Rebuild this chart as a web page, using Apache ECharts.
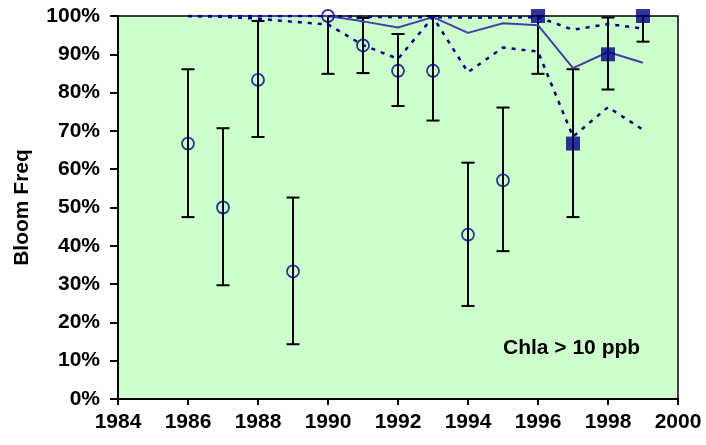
<!DOCTYPE html>
<html><head><meta charset="utf-8">
<script src="https://cdn.jsdelivr.net/npm/echarts@6/dist/echarts.min.js"></script>
<style>html,body{margin:0;padding:0;background:#fff}#c{width:706px;height:445px}</style>
</head><body><div id="c"></div>
<script>
// Data
const circleYears = [1986,1987,1988,1989,1990,1991,1992,1993,1994,1995];
const circleVals  = [0.667,0.500,0.833,0.333,1.000,0.923,0.857,0.857,0.429,0.571];
const squareYears = [1996,1997,1998,1999];
const squareVals  = [1.000,0.667,0.900,1.000];
const errYears = [1986,1987,1988,1989,1990,1991,1992,1993,1994,1995,1996,1997,1998,1999];
const errLow   = [0.475,0.297,0.684,0.143,0.849,0.851,0.765,0.727,0.243,0.386,0.849,0.475,0.808,0.933];
const errHigh  = [0.861,0.707,0.987,0.526,1.000,0.995,0.953,1.000,0.617,0.761,1.000,0.861,0.996,1.000];
const lineYears = [1986,1987,1988,1989,1990,1991,1992,1993,1994,1995,1996,1997,1998,1999];
const solidVals = [1.000,1.000,1.000,1.000,1.000,0.986,0.970,0.997,0.956,0.981,0.976,0.864,0.906,0.878];
const upperVals = [1.000,1.000,1.000,1.000,1.000,0.998,0.997,0.997,0.996,0.996,0.997,0.964,0.979,0.967];
const lowerVals = [1.000,0.998,0.993,0.985,0.978,0.924,0.888,0.997,0.853,0.918,0.907,0.685,0.762,0.703];
const xTicks = {min:1984, max:2000, interval:2};
const yTicks = {min:0, max:1, interval:0.1};
const noteText = 'Chla > 10 ppb';
const yTitle = 'Bloom Freq';

const zip = (a,b)=>a.map((v,i)=>[v,b[i]]);
const FONT = 'Liberation Sans';
const chart = echarts.init(document.getElementById('c'), null, {renderer:'canvas'});
chart.setOption({
  animation:false,
  grid:{left:118,right:28,top:16,bottom:46,show:true,backgroundColor:'#CCFFCC',borderColor:'#000',borderWidth:1.5},
  xAxis:{type:'value',min:xTicks.min,max:xTicks.max,interval:xTicks.interval,
    axisLine:{onZero:false,lineStyle:{color:'#000',width:2}},
    axisTick:{show:true,length:6,inside:false,lineStyle:{color:'#000',width:2}},
    axisLabel:{margin:13,color:'#000',fontFamily:FONT,fontWeight:'bold',fontSize:21,formatter:v=>String(v)},
    splitLine:{show:false}},
  yAxis:{type:'value',min:yTicks.min,max:yTicks.max,interval:yTicks.interval,
    name:yTitle,nameLocation:'middle',nameGap:85,
    nameTextStyle:{color:'#000',fontFamily:FONT,fontWeight:'bold',fontSize:21},
    axisLine:{onZero:false,lineStyle:{color:'#000',width:2}},
    axisTick:{show:true,length:8,lineStyle:{color:'#000',width:2}},
    axisLabel:{margin:18,color:'#000',fontFamily:FONT,fontWeight:'bold',fontSize:21,
      formatter:v=>Math.round(v*100)+'%'},
    splitLine:{show:false}},
  graphic:[{type:'text',left:503,top:338,style:{text:noteText,fill:'#000',font:'bold 21px "Liberation Sans"'}}],
  series:[
    {type:'custom',z:2,data:errYears.map((y,i)=>[y,errLow[i],errHigh[i]]),
     renderItem:function(params,api){
       const x=api.value(0);
       const p1=api.coord([x,api.value(1)]), p2=api.coord([x,api.value(2)]);
       const w=6.5, st={stroke:'#000',lineWidth:2};
       return {type:'group',children:[
         {type:'line',shape:{x1:p1[0],y1:p1[1],x2:p2[0],y2:p2[1]},style:st},
         {type:'line',shape:{x1:p1[0]-w,y1:p1[1],x2:p1[0]+w,y2:p1[1]},style:st},
         {type:'line',shape:{x1:p2[0]-w,y1:p2[1],x2:p2[0]+w,y2:p2[1]},style:st}
       ]};
     }},
    {type:'line',z:3,data:zip(lineYears,solidVals),symbol:'none',lineStyle:{color:'#4040a8',width:2}},
    {type:'line',z:3,data:zip(lineYears,upperVals),symbol:'none',lineStyle:{color:'#000080',width:2.5,type:[4,6]}},
    {type:'line',z:3,data:zip(lineYears,lowerVals),symbol:'none',lineStyle:{color:'#000080',width:2.5,type:[4,6]}},
    {type:'scatter',z:5,data:zip(circleYears,circleVals),symbol:'circle',symbolSize:12,
     itemStyle:{color:'rgba(0,0,0,0)',borderColor:'#000080',borderWidth:1.8}},
    {type:'scatter',z:5,data:zip(squareYears,squareVals),symbol:'rect',symbolSize:14,
     itemStyle:{color:'#000080'}}
  ]
});
</script></body></html>
